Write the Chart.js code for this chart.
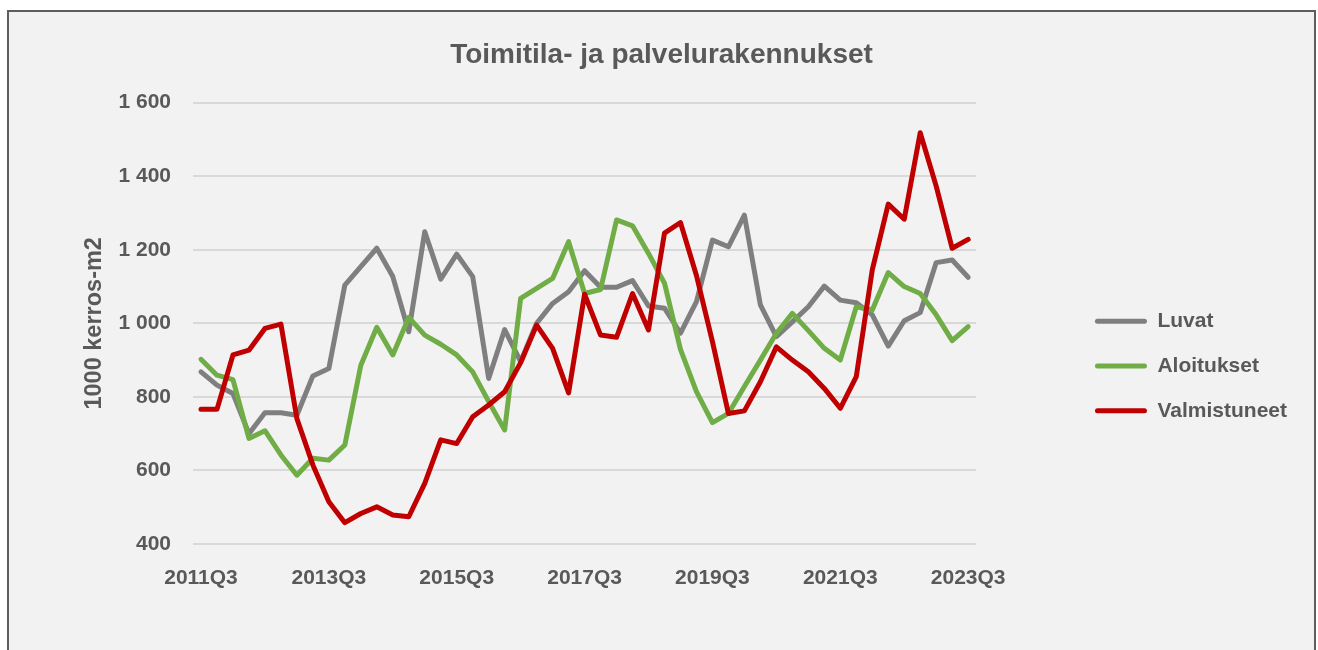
<!DOCTYPE html>
<html>
<head>
<meta charset="utf-8">
<script src="https://cdn.jsdelivr.net/npm/chart.js@4/dist/chart.umd.min.js"></script>
<style>
  html, body { margin: 0; padding: 0; background: #ffffff; overflow: hidden; }
  #frame { position: absolute; left: 7px; top: 10px; width: 1309px; height: 720px;
           box-sizing: border-box; border: 2px solid #5e5e5e; background: #f2f2f2; }
  #mycanvas { position: absolute; left: 0; top: 0; }
</style>
</head>
<body>
<div id="frame"></div>
<canvas id="mycanvas" width="1318" height="732"></canvas>
<script>
// quarters 2011Q3 .. 2023Q3
var quarters = [
  '2011Q3','2011Q4','2012Q1','2012Q2','2012Q3','2012Q4','2013Q1','2013Q2',
  '2013Q3','2013Q4','2014Q1','2014Q2','2014Q3','2014Q4','2015Q1','2015Q2',
  '2015Q3','2015Q4','2016Q1','2016Q2','2016Q3','2016Q4','2017Q1','2017Q2',
  '2017Q3','2017Q4','2018Q1','2018Q2','2018Q3','2018Q4','2019Q1','2019Q2',
  '2019Q3','2019Q4','2020Q1','2020Q2','2020Q3','2020Q4','2021Q1','2021Q2',
  '2021Q3','2021Q4','2022Q1','2022Q2','2022Q3','2022Q4','2023Q1','2023Q2',
  '2023Q3'
];
var shownTicks = ['2011Q3','2013Q3','2015Q3','2017Q3','2019Q3','2021Q3','2023Q3'];

var luvat = [
  868, 832, 809, 700, 757, 757, 750, 857, 877, 1104, 1154, 1204, 1127, 977, 1249, 1120,
  1188, 1127, 850, 983, 896, 1000, 1054, 1086, 1143, 1098, 1098, 1116, 1047, 1041, 973, 1059,
  1226, 1208, 1294, 1050, 964, 1004, 1045, 1101, 1063, 1056, 1023, 938, 1007, 1029, 1165, 1172,
  1125
];
var aloitukset = [
  902, 859, 847, 687, 708, 642, 587, 633, 628, 669, 886, 989, 914, 1016, 968, 943,
  914, 868, 787, 710, 1068, 1095, 1122, 1222, 1081, 1092, 1281, 1265, 1190, 1109, 929, 814,
  730, 755, 828, 900, 973, 1027, 980, 932, 900, 1045, 1036, 1138, 1100, 1081, 1023, 953,
  991
];
var valmistuneet = [
  766, 766, 914, 927, 986, 998, 741, 615, 515, 458, 483, 501, 479, 474, 565, 683,
  673, 746, 778, 814, 893, 995, 932, 811, 1079, 968, 962, 1081, 982, 1245, 1274, 1130,
  950, 755, 762, 841, 936, 900, 868, 823, 769, 855, 1145, 1324, 1283, 1518, 1373, 1204,
  1228
];

Chart.defaults.font.family = "'Liberation Sans', Arial, sans-serif";
Chart.defaults.font.weight = 'bold';
Chart.defaults.color = '#595959';

function spaced(v) {
  return String(v).replace(/\B(?=(\d{3})+(?!\d))/g, ' ');
}

var chartdata = {
  labels: quarters,
  datasets: [
    { label: 'Luvat', data: luvat, borderColor: '#7f7f7f', backgroundColor: '#7f7f7f', order: 3 },
    { label: 'Aloitukset', data: aloitukset, borderColor: '#70ad47', backgroundColor: '#70ad47', order: 2 },
    { label: 'Valmistuneet', data: valmistuneet, borderColor: '#c00000', backgroundColor: '#c00000', order: 1 }
  ]
};
chartdata.datasets.forEach(function(ds) {
  ds.borderWidth = 5;
  ds.pointRadius = 0;
  ds.tension = 0;
  ds.fill = false;
  ds.borderJoinStyle = 'round';
  ds.borderCapStyle = 'round';
});

var ctx = document.getElementById('mycanvas');
var LineGraph = new Chart(ctx, {
  type: 'line',
  data: chartdata,
  options: {
    responsive: false,
    animation: false,
    layout: { padding: { left: 26, right: 21, top: 0, bottom: 0 } },
    plugins: {
      title: {
        display: true,
        text: 'Toimitila- ja palvelurakennukset',
        font: { size: 28, weight: 'bold' },
        color: '#595959',
        padding: { top: 38.5, bottom: 30.5 }
      },
      legend: {
        position: 'right',
        maxWidth: 300,
        labels: {
          boxWidth: 52,
          boxHeight: 5,
          padding: 23.8,
          useBorderRadius: true,
          borderRadius: 2.5,
          font: { size: 21, weight: 'bold' },
          color: '#595959',
          sort: function(a, b) { return a.datasetIndex - b.datasetIndex; },
          generateLabels: function(chart) {
            var items = Chart.defaults.plugins.legend.labels.generateLabels(chart);
            items.forEach(function(it) { it.lineWidth = 0; });
            return items;
          }
        }
      },
      tooltip: { enabled: false }
    },
    scales: {
      x: {
        offset: true,
        grid: { display: false, drawTicks: false },
        border: { display: false },
        ticks: {
          autoSkip: false,
          maxRotation: 0,
          padding: 22,
          font: { size: 21, weight: 'bold' },
          callback: function(value, index) {
            var lab = quarters[index];
            return shownTicks.indexOf(lab) >= 0 ? lab : '';
          }
        },
        afterFit: function(scale) { scale.height = 188; }
      },
      y: {
        min: 400,
        max: 1600,
        grid: { color: '#d9d9d9', lineWidth: 2, drawTicks: false },
        border: { display: false },
        ticks: {
          stepSize: 200,
          padding: 22,
          font: { size: 21, weight: 'bold' },
          callback: function(v) { return spaced(v); }
        },
        title: {
          display: true,
          text: '1000 kerros-m2',
          font: { size: 23.5, weight: 'bold' },
          color: '#595959',
          padding: { top: 54, bottom: 0 }
        },
        afterFit: function(scale) { scale.width = 167; }
      },
      y2: {
        type: 'linear',
        position: 'right',
        display: true,
        grid: { display: false, drawTicks: false },
        border: { display: false },
        ticks: { display: false },
        afterFit: function(scale) { scale.width = 95; }
      }
    }
  }
});
</script>
</body>
</html>
